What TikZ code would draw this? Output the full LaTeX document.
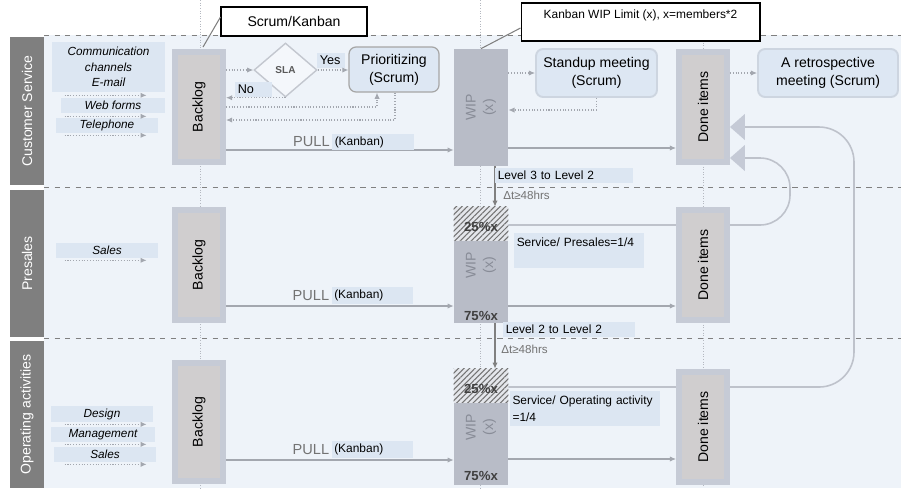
\documentclass[tikz,border=0pt]{standalone}
\usepackage{fontspec}
\setmainfont{Liberation Sans}
\usetikzlibrary{calc,patterns.meta,shapes.geometric,arrows.meta,backgrounds}

\definecolor{laneGray}{HTML}{7F7F7F}
\definecolor{laneBg}{HTML}{EEF3F9}
\definecolor{labBlue}{HTML}{DCE6F2}
\definecolor{stackOut}{HTML}{C6CBD6}
\definecolor{stackIn}{HTML}{D0CECF}
\definecolor{wipFill}{HTML}{B8BCC7}
\definecolor{wipText}{HTML}{888C97}
\definecolor{flowGray}{HTML}{A3A7AF}
\definecolor{guideGray}{HTML}{B4B8C0}
\definecolor{triFill}{HTML}{C5CAD6}
\definecolor{loopGray}{HTML}{BEC2CB}
\definecolor{meetFill}{HTML}{DDE7F3}
\definecolor{meetLine}{HTML}{CDD5E0}
\definecolor{prLine}{HTML}{A6A6A6}
\definecolor{slaLine}{HTML}{C3C7CF}
\definecolor{slaFill}{HTML}{F4F7FB}
\definecolor{hatchBg}{HTML}{E4E6EB}

\tikzset{
  lanebar/.style={fill=laneGray, text=white, rotate=90, inner sep=0pt, font=\fontsize{8}{9}\selectfont},
  lanesep/.style={draw=gray, dashed, line width=0.5pt},
  guide/.style={draw=guideGray, densely dotted, line width=0.5pt},
  chan/.style={fill=labBlue, inner sep=0pt, minimum height=0.3cm, align=center, font=\fontsize{6.7}{8.8}\selectfont\itshape},
  stack/.style={fill=stackIn, draw=stackOut, line width=3.4pt, minimum width=0.96cm, inner sep=0pt},
  wipbox/.style={fill=wipFill, minimum width=1.08cm, inner sep=0pt},
  vtext/.style={rotate=90, inner sep=0pt, font=\fontsize{8}{9}\selectfont},
  wiptext/.style={rotate=90, inner sep=0pt, align=center, text=wipText, font=\fontsize{8}{10}\selectfont},
  share/.style={inner sep=0pt, text=black!75, font=\fontsize{7.5}{8}\selectfont\bfseries},
  meeting/.style={rounded corners=4pt, fill=meetFill, draw=meetLine, line width=1.1pt, minimum height=0.96cm, align=center, font=\fontsize{8}{10.4}\selectfont},
  callout/.style={draw=black, fill=white, line width=0.6pt, inner sep=0pt},
  callline/.style={draw=gray, line width=0.6pt},
  tag/.style={fill=labBlue, inner sep=1.5pt, minimum height=0.3cm, align=left, font=\fontsize{6.8}{9.4}\selectfont},
  pull/.style={inner sep=1pt, text=black!55, font=\fontsize{8.3}{9}\selectfont},
  delta/.style={inner sep=0pt, text=black!55, font=\fontsize{6.6}{8}\selectfont},
  flow/.style={draw=flowGray, line width=0.6pt, -{Latex[length=3.5pt,width=3pt]}},
  flowd/.style={flow, densely dotted},
  levelflow/.style={draw=black!50, line width=0.6pt, -{Latex[length=3.5pt,width=3pt]}},
  loopflow/.style={draw=loopGray, line width=0.9pt, -{Triangle[length=0.3cm,width=0.52cm,color=triFill]}}
}

\begin{document}
\begin{tikzpicture}[x=0.02cm, y=-0.02cm]
  \useasboundingbox (0,0) rectangle (901,488);

  %%%%% LANES %%%%%
  \begin{scope}[on background layer]
    \fill[laneBg] (44,35) rectangle (901,488);
    \foreach \y in {35,187,338}
      \draw[lanesep] (44,\y) -- (901,\y);
    \draw[guide] (200,0) -- (200,488);
    \draw[guide] (480,0) -- (480,488);
    \draw[guide] (703,40) -- (703,488);
  \end{scope}

  \node[lanebar, minimum width=2.96cm, minimum height=0.68cm] (cs) at (27,111) {Customer Service};
  \node[lanebar, minimum width=2.94cm, minimum height=0.68cm] (ps) at (27,263.5) {Presales};
  \node[lanebar, minimum width=2.94cm, minimum height=0.68cm] (oa) at (27,414.5) {Operating activities};

  %%%%% CHANNELS %%%%%
  \node[chan, minimum width=2.26cm, minimum height=1cm] (cc) at (108.5,67) {Communication\\channels\\E-mail};
  \node[chan, minimum width=2.08cm] (wf) at (113,105.5) {Web forms};
  \node[chan, minimum width=2.04cm] (tp) at (107,125.5) {Telephone};
  \node[chan, minimum width=2.04cm] (sl2) at (107,250.5) {Sales};
  \node[chan, minimum width=2.04cm, minimum height=0.32cm] (dg) at (102,414) {Design};
  \node[chan, minimum width=2.08cm] (mg) at (103,434.5) {Management};
  \node[chan, minimum width=2.04cm] (sl3) at (105,454.5) {Sales};

  \draw[flowd] ($(cc.south west)+(13,3)$) -- ++(82,0);
  \draw[flowd] ($(wf.south west)+(4,3)$) -- ++(82,0);
  \draw[flowd] ($(tp.south west)+(9,2)$) -- ++(82,0);
  \draw[flowd] ($(sl2.south west)+(9,2)$) -- ++(82,0);
  \draw[flowd] ($(dg.south west)+(14,2)$) -- ++(82,0);
  \draw[flowd] ($(mg.south west)+(14,2)$) -- ++(82,0);
  \draw[flowd] ($(sl3.south west)+(11,2)$) -- ++(82,0);

  %%%%% BACKLOG / WIP / DONE %%%%%
  \node[stack, minimum height=2.2cm] (bl1) at (199,107) {};
  \node[stack, minimum height=2.2cm] (bl2) at (199,265) {};
  \node[stack, minimum height=2.36cm] (bl3) at (199,422) {};
  \node[vtext] (bl1t) at (bl1) {Backlog};
  \node[vtext] (bl2t) at (bl2) {Backlog};
  \node[vtext] (bl3t) at (bl3) {Backlog};

  \node[wipbox, minimum height=2.34cm] (wip1) at (481,107.5) {};
  \node[wipbox, minimum height=2.32cm] (wip2) at (481,265) {};
  \node[wipbox, minimum height=2.32cm] (wip3) at (481,427) {};
  \fill[hatchBg] (wip2.north west) rectangle ($(wip2.north east)+(0,34)$);
  \fill[pattern={Lines[angle=45,distance=2.2pt,line width=0.6pt]}, pattern color=black!55]
    (wip2.north west) rectangle ($(wip2.north east)+(0,34)$);
  \fill[hatchBg] (wip3.north west) rectangle ($(wip3.north east)+(0,34)$);
  \fill[pattern={Lines[angle=45,distance=2.2pt,line width=0.6pt]}, pattern color=black!55]
    (wip3.north west) rectangle ($(wip3.north east)+(0,34)$);
  \node[wiptext] (wip1t) at (wip1) {WIP\\(x)};
  \node[wiptext] (wip2t) at (wip2) {WIP\\(x)};
  \node[wiptext] (wip3t) at (wip3) {WIP\\(x)};
  \node[share] (q2) at (481,227) {25\%x};
  \node[share] (r2) at (481,316) {75\%x};
  \node[share] (q3) at (481,389) {25\%x};
  \node[share] (r3) at (481,476) {75\%x};

  \node[stack, minimum height=2.2cm] (dn1) at (703,107) {};
  \node[stack, minimum height=2.2cm] (dn2) at (703,265) {};
  \node[stack, minimum height=2.2cm] (dn3) at (703,427) {};
  \node[vtext] (dn1t) at (dn1) {Done items};
  \node[vtext] (dn2t) at (dn2) {Done items};
  \node[vtext] (dn3t) at (dn3) {Done items};

  %%%%% SCRUM STEPS %%%%%
  \node[diamond, draw=slaLine, fill=slaFill, line width=0.8pt, minimum width=1.26cm, minimum height=1.08cm,
    inner sep=0pt, text=black!65, font=\fontsize{5.7}{6}\selectfont\bfseries] (sla) at (285.5,70) {SLA};
  \node[meeting, draw=prLine, line width=0.7pt, minimum width=1.8cm, minimum height=0.9cm] (pr) at (394,69.5) {Prioritizing\\(Scrum)};
  \node[meeting, minimum width=2.42cm] (su) at (596.5,73) {Standup meeting\\(Scrum)};
  \node[meeting, minimum width=2.8cm] (rt) at (828,73) {A retrospective\\meeting (Scrum)};

  \node[tag, text width=0.45cm, font=\fontsize{7.2}{9}\selectfont] (yes) at (331,60.5) {Yes};
  \node[tag, text width=0.63cm, font=\fontsize{7.2}{9}\selectfont] (no) at (253.5,89.5) {No};

  \draw[flowd] (bl1.east |- sla.west) -- (sla.west);
  \draw[flowd] (sla.south) -- (sla.south -| bl1.east);
  \draw[flowd] (sla.east) -- (sla.east -| pr.west);
  \draw[flowd] (bl1.east) -| ([xshift=-0.34cm]pr.south);
  \draw[flowd] ([xshift=0.02cm]pr.south) |- ([yshift=-0.26cm]bl1.east);
  \draw[flowd] (wip1.east |- su.west) -- (su.west);
  \draw[flowd] (su.south) |- ([yshift=-0.05cm]wip1.east);
  \draw[flowd] (dn1.east |- rt.west) -- (rt.west);

  %%%%% PULL %%%%%
  \coordinate (p1) at ([yshift=-0.86cm]bl1.east);
  \coordinate (p2) at ([yshift=-0.82cm]bl2.east);
  \coordinate (p3) at ([yshift=-0.76cm]bl3.east);
  \draw[flow] (p1) -- (p1 -| wip1.west);
  \draw[flow] (p2) -- (p2 -| wip2.west);
  \draw[flow] (p3) -- (p3 -| wip3.west);

  \node[tag, text width=1.53cm] (kb1) at (373,142) {(Kanban)};
  \node[tag, text width=1.53cm] (kb2) at (372.5,295.5) {(Kanban)};
  \node[tag, text width=1.53cm] (kb3) at (372.5,449.5) {(Kanban)};
  \node[pull, anchor=east] (pl1) at (kb1.west) {PULL};
  \node[pull, anchor=east] (pl2) at (kb2.west) {PULL};
  \node[pull, anchor=east] (pl3) at (kb3.west) {PULL};

  \coordinate (w1) at ([yshift=-0.81cm]wip1.east);
  \coordinate (w2) at ([yshift=-0.82cm]wip2.east);
  \coordinate (w3) at ([yshift=-0.64cm]wip3.east);
  \draw[flow] (w1) -- (w1 -| dn1.west);
  \draw[flow] (w2) -- (w2 -| dn2.west);
  \draw[flow] (w3) -- (w3 -| dn3.west);

  %%%%% LEVELS %%%%%
  \draw[levelflow] ([xshift=0.28cm]wip1.south) -- ([xshift=0.28cm]wip2.north);
  \draw[levelflow] ([xshift=0.28cm]wip2.south) -- ([xshift=0.28cm]wip3.north);
  \node[tag, text width=2.65cm] (lv1) at (564,175.5) {Level 3 to Level 2};
  \node[tag, text width=2.53cm] (lv2) at (569,329.5) {Level 2 to Level 2};
  \node[delta, anchor=west] (dt1) at (503,195) {Δt≥48hrs};
  \node[delta, anchor=west] (dt2) at (501,349) {Δt≥48hrs};
  \node[tag, text width=2.49cm, minimum height=0.7cm] (sp) at (579,250.5) {Service/ Presales=1/4\\\mbox{}};
  \node[tag, text width=2.9cm, minimum height=0.7cm] (so) at (585,408.5) {Service/ Operating activity\\=1/4};

  %%%%% RETURN LOOPS %%%%%
  \coordinate (h2) at ([yshift=0.8cm]wip2.east);
  \coordinate (h3) at ([yshift=0.8cm]wip3.east);
  \coordinate (rA) at (790,300);
  \coordinate (rB) at (854,300);
  \coordinate (a1) at ([yshift=-1.02cm]dn1.east);
  \coordinate (a2) at ([yshift=-0.4cm]dn1.east);
  \begin{scope}[on background layer]
    \draw[loopflow, rounded corners=0.6cm] (h2) -- (h2 -| rA) -- (a1 -| rA) -- (a1);
    \draw[loopflow, rounded corners=0.7cm] (h3) -- (h3 -| rB) -- (a2 -| rB) -- (a2);
  \end{scope}

  %%%%% CALLOUTS %%%%%
  \node[callout, minimum width=2.92cm, minimum height=0.58cm, font=\fontsize{8}{9.6}\selectfont] (sk) at (294,21.5) {Scrum/Kanban};
  \node[callout, minimum width=4.78cm, minimum height=0.76cm, align=center, font=\fontsize{6.8}{8.5}\selectfont] (wl) at (640.5,22) {Kanban WIP Limit (x), x=members*2\\\mbox{}};
  \draw[callline] ([xshift=0.08cm,yshift=0.04cm]bl1.north) -- ([yshift=0.09cm]sk.west);
  \draw[callline] (wip1.north) -- ([yshift=-0.12cm]wl.west);
\end{tikzpicture}
\end{document}
